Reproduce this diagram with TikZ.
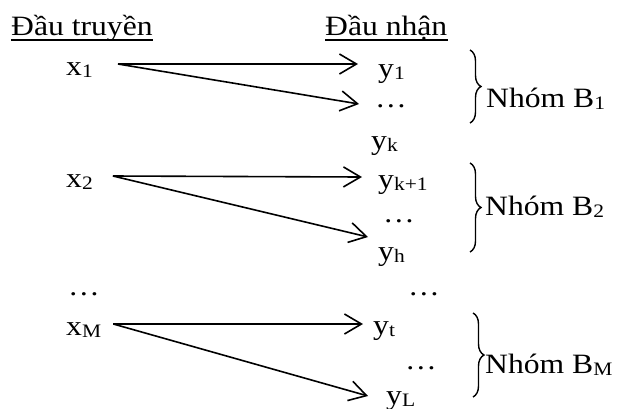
\documentclass[tikz,border=0pt]{standalone}
\usepackage{fontspec}
\setmainfont[FakeStretch=1.13]{Liberation Serif}
\usetikzlibrary{arrows.meta,decorations.pathreplacing}
\newcommand{\idx}[1]{\raisebox{-2pt}{\fontsize{19}{19}\selectfont #1}}

\begin{document}
\begin{tikzpicture}[x=1pt, y=-1pt,
    every node/.style={font=\fontsize{28}{32}\selectfont, inner sep=0pt, anchor=base west},
    arr/.style={line width=1.6pt, -{Straight Barb[length=17pt,width=20pt]}},
    grp/.style={line width=1.4pt, decorate, decoration={brace, amplitude=11pt}},
    uline/.style={line width=1.3pt}]
  \useasboundingbox (0,0) rectangle (620,408);
  % headers
  \node (send) at (11,35) {Đầu truyền};
  \node (recv) at (325,35) {Đầu nhận};
  \draw[uline] ([yshift=-5pt]send.base west) -- ([yshift=-5pt]send.base east);
  \draw[uline] ([yshift=-5pt]recv.base west) -- ([yshift=-5pt]recv.base east);
  % group 1
  \node (x1) at (66,75) {x\idx{1}};
  \node (y1) at (378,77) {y\idx{1}};
  \node (d1) at (375,107) {…};
  \node (yk) at (371,149) {y\idx{k}};
  \draw[arr] ([xshift=25pt,yshift=11pt]x1.base east) -- ([xshift=-20pt,yshift=13pt]y1.base west);
  \draw[arr] ([xshift=25pt,yshift=11pt]x1.base east) -- ([xshift=-12pt,yshift=45pt]yk.base west);
  \draw[grp] (470,50) -- (470,123);
  \node (b1) at (486,107) {Nhóm B\idx{1}};
  % group 2
  \node (x2) at (66,187) {x\idx{2}};
  \node (yk1) at (378,188) {y\idx{k+1}};
  \node (d2) at (383,222) {…};
  \node (yh) at (378,260) {y\idx{h}};
  \draw[arr] ([xshift=20pt,yshift=11pt]x2.base east) -- ([xshift=-16pt,yshift=11pt]yk1.base west);
  \draw[arr] ([xshift=20pt,yshift=11pt]x2.base east) -- ([xshift=-10pt,yshift=23pt]yh.base west);
  \draw[grp] (470,163) -- (470,252);
  \node (b2) at (485,215) {Nhóm B\idx{2}};
  % skipped rows
  \node (dl) at (68,295) {…};
  \node (dr) at (408,295) {…};
  % group M
  \node (xm) at (66,335) {x\idx{M}};
  \node (yt) at (373,334) {y\idx{t}};
  \node (dm) at (405,369) {…};
  \node (yl) at (386,404) {y\idx{L}};
  \draw[arr] ([xshift=12pt,yshift=11pt]xm.base east) -- ([xshift=-10pt,yshift=10pt]yt.base west);
  \draw[arr] ([xshift=12pt,yshift=11pt]xm.base east) -- ([xshift=-18pt,yshift=8pt]yl.base west);
  \draw[grp] (473,313) -- (473,397);
  \node (bm) at (485,373) {Nhóm B\idx{M}};
\end{tikzpicture}
\end{document}
